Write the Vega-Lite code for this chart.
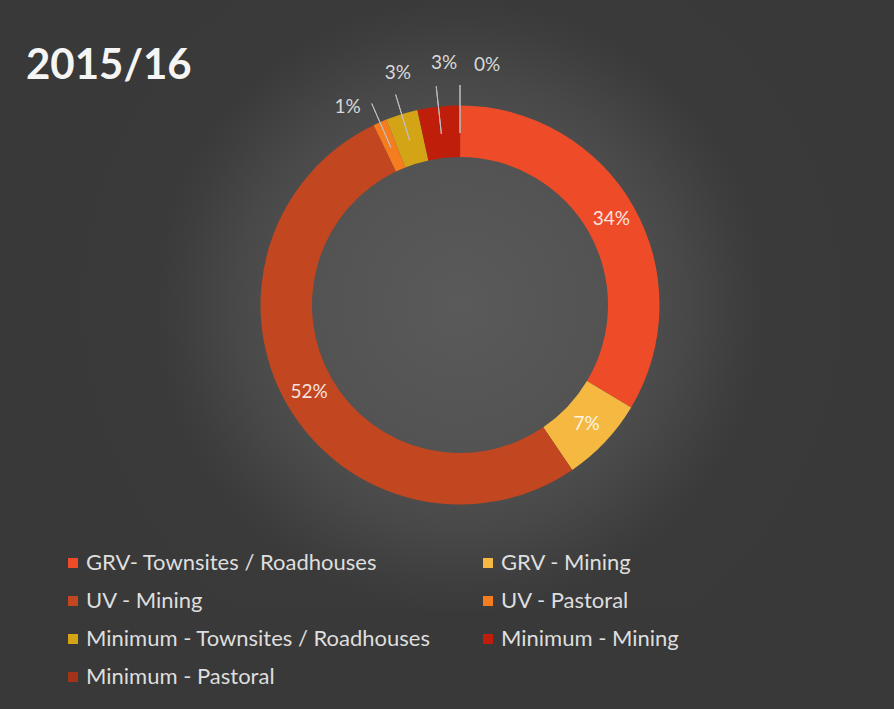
{
  "$schema": "https://vega.github.io/schema/vega-lite/v6.json",
  "width": 868,
  "height": 610,
  "autosize": {"type": "none"},
  "padding": {"left": 26, "right": 0, "top": 0, "bottom": 99},
  "background": "#393939",
  "title": {
    "text": "2015/16",
    "anchor": "start",
    "frame": "group",
    "offset": -88,
    "dx": 0,
    "font": "Lato",
    "fontSize": 42,
    "fontWeight": "bold",
    "color": "#f5f5f5"
  },
  "data": {
    "values": [
      {"category": "GRV- Townsites / Roadhouses", "share": 0.336, "order": 1},
      {"category": "GRV - Mining", "share": 0.069, "order": 2},
      {"category": "UV - Mining", "share": 0.524, "order": 3},
      {"category": "UV - Pastoral", "share": 0.011, "order": 4},
      {"category": "Minimum -  Townsites / Roadhouses", "share": 0.026, "order": 5},
      {"category": "Minimum - Mining", "share": 0.034, "order": 6},
      {"category": "Minimum - Pastoral", "share": 0.0005, "order": 7}
    ]
  },
  "transform": [
    {"stack": "share", "groupby": [], "sort": [{"field": "order", "order": "ascending"}], "as": ["s0", "s1"]},
    {"calculate": "(datum.s0 + datum.s1) / 2", "as": "mid"}
  ],
  "layer": [
    {
      "transform": [{"filter": "datum.order == 1"}],
      "mark": {
        "type": "rect",
        "fill": {
          "gradient": "radial",
          "x1": 0.5, "y1": 0.5, "r1": 0,
          "x2": 0.5, "y2": 0.5, "r2": 0.52,
          "stops": [
            {"offset": 0, "color": "#5a5a5a"},
            {"offset": 0.33, "color": "#535353"},
            {"offset": 0.5, "color": "#484848"},
            {"offset": 0.62, "color": "#3e3e3e"},
            {"offset": 0.68, "color": "#3a3a3a"},
            {"offset": 1, "color": "#393939"}
          ]
        }
      },
      "encoding": {}
    },
    {
      "mark": {"type": "arc", "outerRadius": 199.5, "innerRadius": 148},
      "encoding": {
        "theta": {"field": "s0", "type": "quantitative", "stack": null},
        "theta2": {"field": "s1"},
        "color": {
          "field": "category",
          "type": "nominal",
          "scale": {
            "domain": ["GRV- Townsites / Roadhouses", "GRV - Mining", "UV - Mining", "UV - Pastoral", "Minimum -  Townsites / Roadhouses", "Minimum - Mining", "Minimum - Pastoral"],
            "range": ["#ee4b28", "#f5b942", "#c2461f", "#f57c1f", "#d4a417", "#bf1e0a", "#a33318"]
          },
          "legend": {
            "orient": "none",
            "legendX": 36,
            "legendY": 552,
            "direction": "horizontal",
            "columns": 2,
            "title": null,
            "padding": 0,
            "symbolType": "square",
            "symbolSize": 100,
            "symbolStrokeWidth": 0,
            "labelFont": "Lato",
            "labelFontSize": 22,
            "labelColor": "#dedede",
            "labelOffset": 2,
            "labelLimit": 500,
            "rowPadding": 16,
            "columnPadding": 40
          }
        }
      }
    },
    {
      "transform": [{"filter": "datum.order >= 4"}],
      "mark": {"type": "arc", "innerRadius": 172, "outerRadius": 220, "stroke": "#bfbfbf", "strokeWidth": 1, "fillOpacity": 0},
      "encoding": {
        "theta": {"field": "mid", "type": "quantitative", "stack": null},
        "theta2": {"field": "mid"}
      }
    },
    {
      "transform": [{"filter": "datum.order <= 3"}],
      "mark": {"type": "text", "radius": 174, "font": "Lato", "fontSize": 19, "color": "#ffffff", "opacity": 0.85, "align": "center", "baseline": "middle"},
      "encoding": {
        "theta": {"field": "mid", "type": "quantitative", "stack": null},
        "text": {"field": "share", "type": "quantitative", "format": ".0%"}
      }
    },
    {
      "transform": [{"filter": "datum.order == 4"}],
      "mark": {"type": "text", "radius": 240, "dx": -16, "dy": 22, "font": "Lato", "fontSize": 19, "color": "#d9d9d9", "align": "center", "baseline": "middle"},
      "encoding": {
        "theta": {"field": "mid", "type": "quantitative", "stack": null},
        "text": {"field": "share", "type": "quantitative", "format": ".0%"}
      }
    },
    {
      "transform": [{"filter": "datum.order == 5"}],
      "mark": {"type": "text", "radius": 240, "dx": 8, "dy": -2, "font": "Lato", "fontSize": 19, "color": "#d9d9d9", "align": "center", "baseline": "middle"},
      "encoding": {
        "theta": {"field": "mid", "type": "quantitative", "stack": null},
        "text": {"field": "share", "type": "quantitative", "format": ".0%"}
      }
    },
    {
      "transform": [{"filter": "datum.order == 6"}],
      "mark": {"type": "text", "radius": 240, "dx": 10, "dy": -3, "font": "Lato", "fontSize": 19, "color": "#d9d9d9", "align": "center", "baseline": "middle"},
      "encoding": {
        "theta": {"field": "mid", "type": "quantitative", "stack": null},
        "text": {"field": "share", "type": "quantitative", "format": ".0%"}
      }
    },
    {
      "transform": [{"filter": "datum.order == 7"}],
      "mark": {"type": "text", "radius": 240, "dx": 27, "dy": 0, "font": "Lato", "fontSize": 19, "color": "#d9d9d9", "align": "center", "baseline": "middle"},
      "encoding": {
        "theta": {"field": "mid", "type": "quantitative", "stack": null},
        "text": {"field": "share", "type": "quantitative", "format": ".0%"}
      }
    }
  ],
  "config": {"view": {"stroke": null}}
}
